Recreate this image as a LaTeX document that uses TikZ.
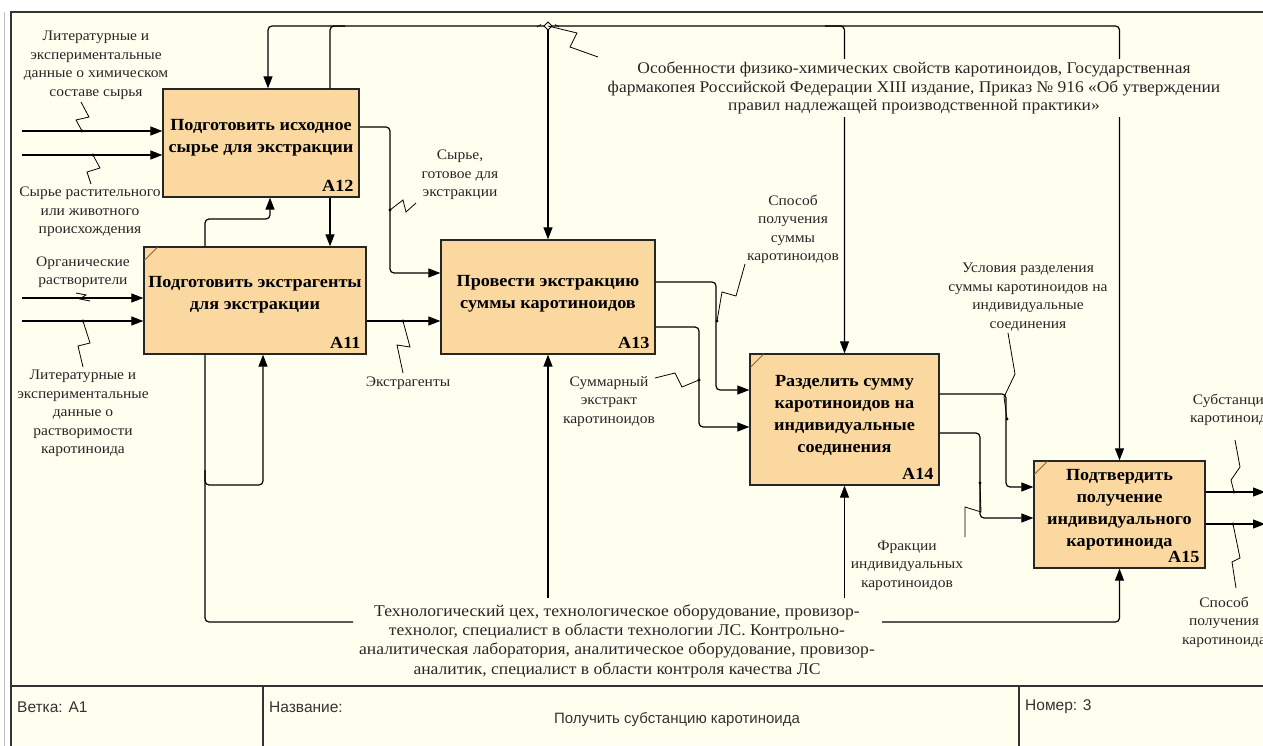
\documentclass[tikz,border=0pt]{standalone}
\usepackage{fontspec}
\setmainfont{Liberation Serif}[FakeStretch=1.07]
\newfontfamily\uisans{Liberation Sans}
\usetikzlibrary{arrows.meta,calc}

\definecolor{paper}{RGB}{255,255,240}
\definecolor{boxfill}{RGB}{250,216,160}
\definecolor{corner}{RGB}{150,100,50}

\tikzset{
  fnbox/.style={draw=black!85, line width=1.3pt, fill=boxfill, inner sep=0pt},
  fntitle/.style={font=\bfseries\fontsize{17}{22}\selectfont, align=center, inner sep=0pt},
  fnnum/.style={font=\bfseries\fontsize{17}{20}\selectfont, anchor=south east, inner sep=0pt},
  flow/.style={draw=black, line width=1.2pt, rounded corners=4pt,
    -{Triangle[length=12pt,width=9pt]}},
  pipe/.style={draw=black, line width=1.2pt, rounded corners=4pt},
  lbl/.style={font=\fontsize{14.5}{18.5}\selectfont, align=center, inner sep=1pt, text=black!85},
  biglbl/.style={font=\fontsize{16.3}{18.6}\selectfont, align=center, inner sep=3pt, fill=paper, text=black!85},
  sq/.style={draw=black, line width=0.8pt},
  jdot/.style={circle, fill=black, inner sep=0pt, minimum size=3.2pt},
  frameln/.style={draw=black!80, line width=1.4pt},
  uitext/.style={font=\uisans\fontsize{15.5}{18}\selectfont, inner sep=0pt, text=black!80}
}

\begin{document}
\begin{tikzpicture}[x=1pt,y=-1pt]
\useasboundingbox (0,0) rectangle (1263,746);
\clip (0,0) rectangle (1263,746);

% sheet and frame
\fill[white] (0,0) rectangle (1263,746);
\fill[paper] (11,12) rectangle (1263,746);
\draw[black!25, line width=1pt] (4,12) -- (4,746);
\draw[frameln] (11,746) -- (11,12) -- (1263,12);

% function boxes
\node[fnbox, minimum width=196pt, minimum height=108pt] (a12) at (261,143) {};
\node[fnbox, minimum width=222pt, minimum height=107pt] (a11) at (255,300.5) {};
\node[fnbox, minimum width=214pt, minimum height=114pt] (a13) at (548,297) {};
\node[fnbox, minimum width=189pt, minimum height=131pt] (a14) at (844.5,419.5) {};
\node[fnbox, minimum width=171pt, minimum height=107pt] (a15) at (1119.5,514.5) {};

\node[fntitle] (a12t) at ($(a12.center)+(0,-5)$) {Подготовить исходное\\сырье для экстракции};
\node[fntitle] (a11t) at ($(a11.center)+(0,-6)$) {Подготовить экстрагенты\\для экстракции};
\node[fntitle] (a13t) at ($(a13.center)+(0,-3.5)$) {Провести экстракцию\\суммы каротиноидов};
\node[fntitle] (a14t) at ($(a14.center)+(0,-4.5)$) {Разделить сумму\\каротиноидов на\\индивидуальные\\соединения};
\node[fntitle] (a15t) at ($(a15.center)+(0,-4.5)$) {Подтвердить\\получение\\индивидуального\\каротиноида};

\node[fnnum] (a12n) at ($(a12.south east)+(-6,-6)$) {A12};
\node[fnnum] (a11n) at ($(a11.south east)+(-6,-6)$) {A11};
\node[fnnum] (a13n) at ($(a13.south east)+(-6,-6)$) {A13};
\node[fnnum] (a14n) at ($(a14.south east)+(-6,-6)$) {A14};
\node[fnnum] (a15n) at ($(a15.south east)+(-6,-6)$) {A15};

\foreach \b in {a11,a14,a15}
  \draw[corner, line width=0.9pt] ($(\b.north west)+(1,14)$) -- ($(\b.north west)+(14,1)$);

% inputs from the left border
\coordinate (in1) at (22,131);
\coordinate (in2) at (22,155);
\coordinate (in3) at (22,298);
\coordinate (in4) at (22,321);
\draw[flow] (in1) -- (in1 -| a12.west);
\draw[flow] (in2) -- (in2 -| a12.west);
\draw[flow] (in3) -- (in3 -| a11.west);
\draw[flow] (in4) -- (in4 -| a11.west);

% links between the boxes
\draw[flow] (a11.east |- in4) -- (a13.west |- in4);
\draw[flow] (a12.east |- 0,127) -- (390,127) -- (390,273) -- (a13.west |- 0,273);
\draw[flow] (a12.south -| 330,0) -- (a11.north -| 330,0);
\draw[flow] (a13.east |- 0,282) -- (716,282) -- (716,390) -- (a14.west |- 0,390);
\draw[flow] (a13.east |- 0,327) -- (699,327) -- (699,427) -- (a14.west |- 0,427);
\draw[flow] (a14.east |- 0,394) -- (1006,394) -- (1006,487) -- (a15.west |- 0,487);
\draw[flow] (a14.east |- 0,433) -- (980,433) -- (980,518) -- (a15.west |- 0,518);
\draw[flow] (a15.east |- 0,492) -- (1265,492);
\draw[flow] (a15.east |- 0,524) -- (1265,524);

% control bus along the top
\coordinate (tun) at (548,26);
\draw[flow] (tun) -- (268,26) -- (a12.north -| 268,0);
\draw[pipe] (a12.north -| 330,0) -- (330,26) -- (345,26);
\draw[flow] (tun) -- (a13.north);
\draw[flow] (tun) -- (1119.5,26) -- (a15.north);
\draw[flow] (825,26) -- (844.5,26) -- (a14.north);
\draw[black, line width=0.8pt, fill=paper] (544,26) -- (548,22) -- (552,26) -- (548,30) -- cycle;
\draw[black, line width=0.7pt] (537,27) -- (541,24.5);
\draw[black, line width=0.7pt] (555,24.5) -- (559,27);

% mechanisms from the bottom
\draw[pipe] (353,622) -- (205,622) -- (a11.south -| 205,0);
\draw[flow] (a11.north -| 205,0) -- (205,219) -- (270,219) -- (a12.south -| 270,0);
\draw[flow] (205,470) -- (205,485) -- (263,485) -- (a11.south -| 263,0);
\draw[flow] (548,598) -- (a13.south);
\draw[flow] (844.5,598) -- (a14.south);
\draw[flow] (882,622) -- (1119.5,622) -- (a15.south);

% arrow labels
\node[lbl] (l1) at (96,65.5) {Литературные и\\экспериментальные\\данные о химическом\\составе сырья};
\node[lbl] (l2) at (90,212) {Сырье растительного\\или животного\\происхождения};
\node[lbl] (l3) at (83,272) {Органические\\растворители};
\node[lbl] (l4) at (83,413.5) {Литературные и\\экспериментальные\\данные о\\растворимости\\каротиноида};
\node[lbl] (l5) at (408,383) {Экстрагенты};
\node[lbl] (l6) at (460,175) {Сырье,\\готовое для\\экстракции};
\node[lbl] (l7) at (793,229.5) {Способ\\получения\\суммы\\каротиноидов};
\node[lbl] (l8) at (609,401.5) {Суммарный\\экстракт\\каротиноидов};
\node[lbl] (l9) at (1028,297) {Условия разделения\\суммы каротиноидов на\\индивидуальные\\соединения};
\node[lbl] (l10) at (907,565.5) {Фракции\\индивидуальных\\каротиноидов};
\node[lbl] (l11) at (1232,410) {Субстанция\\каротиноида};
\node[lbl] (l12) at (1224,622) {Способ\\получения\\каротиноида};
\node[biglbl] (ctl) at (914,88) {Особенности физико-химических свойств каротиноидов, Государственная\\фармакопея Российской Федерации XIII издание, Приказ № 916 «Об утверждении\\правил надлежащей производственной практики»};
\node[biglbl, font=\fontsize{16.4}{19.3}\selectfont] (mech) at (617,641) {Технологический цех, технологическое оборудование, провизор-\\технолог, специалист в области технологии ЛС. Контрольно-\\аналитическая лаборатория, аналитическое оборудование, провизор-\\аналитик, специалист в области контроля качества ЛС};

% label leaders and their junction dots
\node[jdot] (d1) at (82,131) {};
\node[jdot] (d2) at (93,155) {};
\node[jdot] (d3) at (83,298) {};
\node[jdot] (d4) at (83,321) {};
\node[jdot] (d5) at (403,321) {};
\node[jdot] (d6) at (390,210) {};
\node[jdot] (d7) at (717,321) {};
\node[jdot] (d8) at (699,380) {};
\node[jdot] (d9) at (1007,419) {};
\node[jdot] (d10) at (980,483) {};
\node[jdot] (d11) at (1234,492) {};
\node[jdot] (d12) at (1233,524) {};

\draw[sq] (81,102) -- (89,117) -- (76,120) -- (d1.center);
\draw[sq] (d2.center) -- (100,168) -- (87,172) -- (91,184);
\draw[sq] (76,293) -- (86,295) -- (80,299) -- (90,301);
\draw[sq] (d4.center) -- (90,343) -- (78,346) -- (83,367);
\draw[sq] (d5.center) -- (410,347) -- (397,345) -- (403,373);
\draw[sq] (d6.center) -- (403,200) -- (406,212) -- (416,203);
\draw[sq] (tun) -- (577,33) -- (570,47) -- (598,57);
\draw[sq] (d7.center) -- (722,292) -- (736,296) -- (745,264);
\draw[sq] (d8.center) -- (682,387) -- (675,373) -- (655,378);
\draw[sq] (1008,333) -- (1015,374) -- (1004,397) -- (d9.center);
\draw[sq] (d10.center) -- (981,512) -- (965,507) -- (965,537);
\draw[sq] (d11.center) -- (1231,480) -- (1240,467) -- (1235,440);
\draw[sq] (d12.center) -- (1240,558) -- (1232,562) -- (1236,588);

% title block
\draw[frameln] (11,686) -- (1263,686);
\draw[frameln] (263,686) -- (263,746);
\draw[frameln] (1019,686) -- (1019,746);
\node[uitext, anchor=west] (node1) at (17,707) {Ветка: A1};
\node[uitext, anchor=west] (title) at (269,707) {Название:};
\node[uitext, anchor=west] (num) at (1025,707) {Номер: 3};
\node[uitext, font=\uisans\fontsize{15}{18}\selectfont] (name) at (677,720) {Получить субстанцию каротиноида};
\end{tikzpicture}
\end{document}
